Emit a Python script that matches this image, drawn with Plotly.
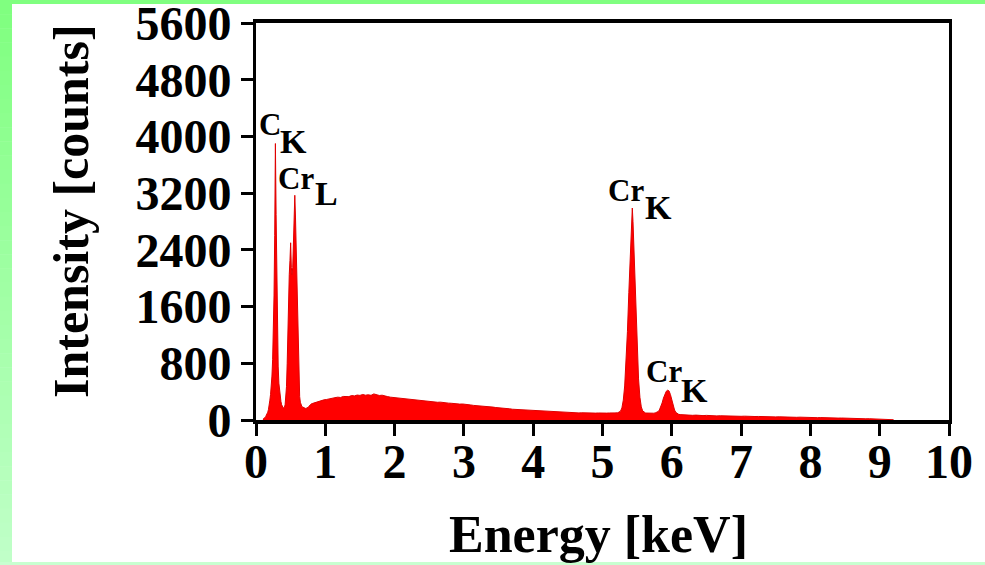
import plotly.graph_objects as go

# ---- EDS spectrum, read channel by channel -------------------------------
# Low-energy region: C K and Cr L (+ O K shoulder), 0.01 keV steps
low_energy = [0.10, 0.11, 0.12, 0.13, 0.14, 0.15, 0.16, 0.17, 0.18, 0.19,
              0.20, 0.21, 0.22, 0.23, 0.24, 0.25, 0.26, 0.27, 0.28, 0.29,
              0.30, 0.31, 0.32, 0.33, 0.34, 0.35, 0.36, 0.37, 0.38, 0.39,
              0.40, 0.41, 0.42, 0.43, 0.44, 0.45, 0.46, 0.47, 0.48, 0.49,
              0.50, 0.51, 0.52, 0.53, 0.54, 0.55, 0.56, 0.57, 0.58, 0.59,
              0.60, 0.61, 0.62, 0.63, 0.64, 0.65, 0.66, 0.67, 0.68, 0.69,
              0.70, 0.71, 0.72, 0.73, 0.74, 0.75, 0.76, 0.77, 0.78, 0.79, 0.80]
low_counts = [10, 15, 25, 35, 50, 65, 85, 110, 150, 200,
              280, 360, 470, 620, 850, 1200, 1750, 2600, 3900, 2900,
              1900, 1150, 760, 520, 400, 320, 260, 215, 190, 178,
              170, 180, 215, 300, 470, 800, 1300, 1750, 2050, 2250,
              2500, 2150, 2050, 2150, 2400, 2750, 3170, 2850, 2450, 2000,
              1450, 900, 520, 330, 250, 215, 195, 185, 178, 172,
              168, 165, 163, 166, 170, 178, 190, 200, 212, 220, 228]

# Bremsstrahlung background, 0.04 keV steps
bg_energy = [0.82, 0.86, 0.90, 0.94, 0.98, 1.02, 1.06, 1.10, 1.14, 1.18,
             1.22, 1.26, 1.30, 1.34, 1.38, 1.42, 1.46, 1.50, 1.54, 1.58,
             1.62, 1.66, 1.70, 1.74, 1.78, 1.82, 1.86, 1.90, 1.94, 1.98,
             2.02, 2.06, 2.10, 2.14, 2.18, 2.22, 2.26, 2.30, 2.34, 2.38,
             2.42, 2.46, 2.50, 2.54, 2.58, 2.62, 2.66, 2.70, 2.74, 2.78,
             2.82, 2.86, 2.90, 2.94, 2.98, 3.02, 3.06, 3.10, 3.14, 3.18,
             3.22, 3.26, 3.30, 3.34, 3.38, 3.42, 3.46, 3.50, 3.54, 3.58,
             3.62, 3.66, 3.70, 3.74, 3.78, 3.82, 3.86, 3.90, 3.94, 3.98,
             4.02, 4.06, 4.10, 4.14, 4.18, 4.22, 4.26, 4.30, 4.34, 4.38,
             4.42, 4.46, 4.50, 4.54, 4.58, 4.62, 4.66, 4.70, 4.74, 4.78,
             4.82, 4.86, 4.90, 4.94, 4.98, 5.02, 5.06, 5.10, 5.14, 5.18]
bg_counts = [235, 250, 262, 270, 284, 290, 302, 308, 315, 322,
             318, 332, 336, 330, 345, 340, 352, 347, 360, 350,
             356, 348, 368, 352, 346, 350, 336, 330, 322, 318,
             310, 306, 298, 300, 290, 286, 290, 278, 274, 272,
             266, 268, 260, 262, 255, 250, 252, 244, 246, 238,
             236, 230, 228, 224, 226, 218, 214, 212, 206, 204,
             200, 196, 192, 190, 184, 182, 176, 174, 168, 166,
             160, 158, 152, 150, 146, 142, 140, 136, 132, 134,
             128, 126, 124, 120, 122, 116, 114, 116, 110, 112,
             108, 106, 108, 104, 102, 105, 100, 102, 99, 101,
             98, 100, 97, 99, 96, 98, 97, 99, 96, 100]

# Cr K-alpha and K-beta lines, 0.02 keV steps
crk_energy = [5.22, 5.24, 5.26, 5.28, 5.30, 5.32, 5.34, 5.36, 5.38, 5.40,
              5.42, 5.43, 5.44, 5.46, 5.48, 5.50, 5.52, 5.54, 5.56, 5.58,
              5.60, 5.62, 5.64, 5.66, 5.68, 5.70, 5.72, 5.74, 5.76, 5.78,
              5.80, 5.82, 5.84, 5.86, 5.88, 5.90, 5.92, 5.94, 5.96, 5.98,
              6.00, 6.02, 6.04, 6.06, 6.08, 6.10, 6.12, 6.14, 6.16, 6.18, 6.20]
crk_counts = [102, 108, 125, 170, 280, 480, 800, 1250, 1800, 2400,
              2850, 2990, 2800, 2250, 1600, 1000, 580, 320, 185, 128,
              108, 100, 98, 96, 95, 97, 94, 96, 100, 106,
              118, 140, 180, 240, 310, 370, 405, 420, 410, 360,
              280, 200, 140, 105, 88, 80, 76, 74, 72, 71, 70]

# High-energy tail, 0.05 keV steps
tail_energy = [6.25, 6.30, 6.35, 6.40, 6.45, 6.50, 6.55, 6.60, 6.65, 6.70,
               6.75, 6.80, 6.85, 6.90, 6.95, 7.00, 7.05, 7.10, 7.15, 7.20,
               7.25, 7.30, 7.35, 7.40, 7.45, 7.50, 7.55, 7.60, 7.65, 7.70,
               7.75, 7.80, 7.85, 7.90, 7.95, 8.00, 8.05, 8.10, 8.15, 8.20,
               8.25, 8.30, 8.35, 8.40, 8.45, 8.50, 8.55, 8.60, 8.65, 8.70,
               8.75, 8.80, 8.85, 8.90, 8.95, 9.00, 9.05, 9.10, 9.15, 9.20]
tail_counts = [68, 66, 69, 64, 62, 65, 60, 62, 58, 60,
               57, 55, 58, 54, 55, 52, 54, 50, 52, 49,
               50, 47, 48, 45, 47, 44, 45, 42, 44, 40,
               42, 38, 40, 37, 38, 35, 36, 33, 34, 31,
               32, 29, 30, 27, 28, 25, 24, 22, 23, 20,
               19, 17, 18, 15, 13, 12, 10, 8, 6, 4]

x_ticks = [0, 1, 2, 3, 4, 5, 6, 7, 8, 9, 10]
y_ticks = [0, 800, 1600, 2400, 3200, 4000, 4800, 5600]

peak_elements = ["C", "Cr", "Cr", "Cr"]
peak_lines = ["K", "L", "K", "K"]

energy = low_energy + bg_energy + crk_energy + tail_energy
counts = low_counts + bg_counts + crk_counts + tail_counts

SERIF = "Liberation Serif"

fig = go.Figure()
fig.add_trace(go.Scatter(
    x=energy, y=counts, mode="lines",
    line=dict(color="#e00000", width=1),
    fill="tozeroy", fillcolor="#ff0000",
    hoverinfo="skip", showlegend=False,
))

# Peak labels: element symbol plus a lowered line name
label_pos = [  # (element x, element y, line x, line y) in data units
    (0.03, 4175, 0.33, 3935),
    (0.31, 3413, 0.83, 3188),
    (5.07, 3244, 5.60, 3004),
    (5.62, 691, 6.12, 423),
]
annotations = []
for el, ln, (ex, ey, lx, ly) in zip(peak_elements, peak_lines, label_pos):
    for txt, ax, ay, fs in ((el, ex, ey, 31), (ln, lx, ly, 34)):
        annotations.append(dict(
            x=ax, y=ay, xref="x", yref="y", text=txt, showarrow=False,
            xanchor="left", yanchor="middle", borderpad=0,
            font=dict(family=SERIF, size=fs, color="black", weight="bold"),
        ))

# Axis titles
PLOT_L, PLOT_R, PLOT_T, PLOT_B = 256, 949, 23, 420
W, H = 985, 565
pw, ph = PLOT_R - PLOT_L, PLOT_B - PLOT_T


def px(xp):
    return (xp - PLOT_L) / pw


def py(yp):
    return (PLOT_B - yp) / ph


annotations.append(dict(
    x=px(598), y=py(534), xref="paper", yref="paper", text="Energy [keV]",
    showarrow=False, xanchor="center", yanchor="middle",
    font=dict(family=SERIF, size=52, color="black", weight="bold"),
))
annotations.append(dict(
    x=px(71), y=py(211), xref="paper", yref="paper", text="Intensity [counts]",
    showarrow=False, xanchor="center", yanchor="middle", textangle=-90,
    font=dict(family=SERIF, size=50, color="black", weight="bold"),
))

# Green frame around the page (top strip, fading left strip, bottom line)
shapes = [dict(type="rect", xref="paper", yref="paper", layer="below",
               x0=px(0), x1=px(W), y0=py(0), y1=py(4),
               fillcolor="#80ff80", line=dict(width=0))]
bands = 40
for i in range(bands):
    t = i / (bands - 1)
    r = int(0x80 + (0xc0 - 0x80) * t)
    b = int(0x80 + (0xc8 - 0x80) * t)
    y0 = H * i / bands
    y1 = H * (i + 1) / bands
    shapes.append(dict(type="rect", xref="paper", yref="paper", layer="below",
                       x0=px(0), x1=px(12), y0=py(y0), y1=py(y1 + 0.5),
                       fillcolor=f"rgb({r},255,{b})", line=dict(width=0)))
shapes.append(dict(type="rect", xref="paper", yref="paper", layer="below",
                   x0=px(0), x1=px(W), y0=py(562), y1=py(H),
                   fillcolor="#c8ffd0", line=dict(width=0)))

fig.update_layout(
    width=W, height=H,
    margin=dict(l=PLOT_L, r=W - PLOT_R, t=PLOT_T, b=H - PLOT_B,
                autoexpand=False),
    paper_bgcolor="white", plot_bgcolor="white",
    annotations=annotations, shapes=shapes,
    xaxis=dict(
        range=[0, 10], tickvals=x_ticks, ticks="outside", ticklen=12,
        tickwidth=3, tickcolor="black", showline=True, linewidth=4,
        linecolor="black", mirror=True, showgrid=False, zeroline=False,
        ticklabelstandoff=-16, ticklabeloverflow="allow", automargin=False,
        tickfont=dict(family=SERIF, size=48, color="black", weight="bold"),
    ),
    yaxis=dict(
        range=[0, 5600], tickvals=y_ticks, ticks="outside", ticklen=12,
        tickwidth=3, tickcolor="black", showline=True, linewidth=3,
        linecolor="black", mirror=True, showgrid=False, zeroline=False,
        ticklabeloverflow="allow", automargin=False,
        tickfont=dict(family=SERIF, size=48, color="black", weight="bold"),
    ),
)

fig.write_html("out.html")
